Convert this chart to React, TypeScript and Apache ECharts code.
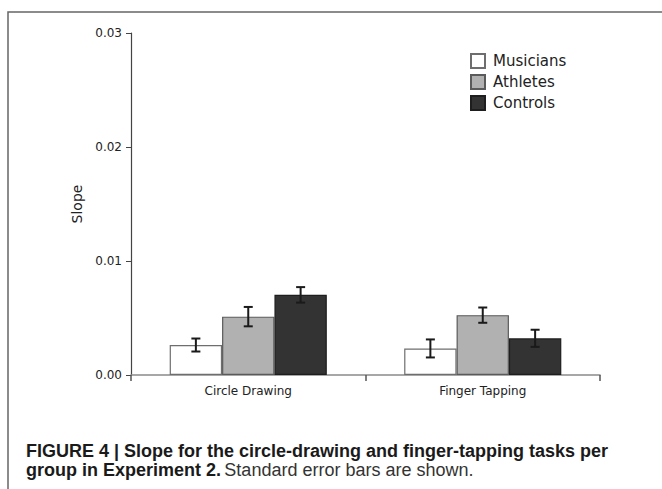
import React, { useEffect, useRef } from "react";
import * as echarts from "echarts";

const categories = ["Circle Drawing", "Finger Tapping"];
const seriesNames = ["Musicians", "Athletes", "Controls"];
const musicians = [0.00263, 0.00233];
const athletes = [0.00512, 0.00525];
const controls = [0.00703, 0.00322];
const musiciansErr = [0.00057, 0.00079];
const athletesErr = [0.00085, 0.00067];
const controlsErr = [0.00068, 0.00075];
const yTicks = [0, 0.01, 0.02, 0.03];

const fills = ["#ffffff", "#b1b1b1", "#333333"];
const borders = ["#6e6e6e", "#5a5a5a", "#1e1e1e"];
const FONT = "DejaVu Sans";
const CAP_FONT = "'Liberation Sans Narrow', 'Liberation Sans', sans-serif";

export default function App() {
  const ref = useRef<HTMLDivElement>(null);
  useEffect(() => {
    document.body.style.margin = "0";
    const chart = echarts.init(ref.current!, null, { renderer: "svg" });
    const values = [musicians, athletes, controls];
    const errs = [musiciansErr, athletesErr, controlsErr];
    const errData: number[][] = [];
    values.forEach((vals, g) => {
      vals.forEach((v, c) => {
        errData.push([c, v - errs[g][c], v + errs[g][c], g]);
      });
    });
    const gapRatio = 0.33;
    chart.setOption({
      animation: false,
      backgroundColor: "#ffffff",
      textStyle: { fontFamily: FONT },
      grid: { left: 131, top: 33, right: 62, bottom: 114, containLabel: false },
      legend: {
        data: seriesNames,
        orient: "vertical",
        left: 470,
        top: 53,
        padding: 0,
        itemWidth: 14,
        itemHeight: 14,
        itemGap: 5,
        icon: "rect",
        textStyle: { fontSize: 15, color: "#222", fontFamily: FONT, padding: [0, 0, 0, 3] },
      },
      xAxis: {
        type: "category",
        data: categories,
        axisLine: { lineStyle: { color: "#8a8a8a", width: 1.5 } },
        axisTick: { show: true, length: 6, lineStyle: { color: "#555", width: 1.5 } },
        axisLabel: { fontSize: 12, color: "#222", margin: 10, fontFamily: FONT },
      },
      yAxis: {
        type: "value",
        min: yTicks[0],
        max: yTicks[yTicks.length - 1],
        interval: 0.01,
        name: "Slope",
        nameLocation: "middle",
        nameGap: 46,
        nameTextStyle: { fontSize: 14, color: "#222", fontFamily: FONT },
        axisLine: { show: true, lineStyle: { color: "#444", width: 1.2 } },
        axisTick: { show: true, length: 5, lineStyle: { color: "#444" } },
        splitLine: { show: false },
        axisLabel: {
          fontSize: 12,
          color: "#222",
          margin: 9,
          fontFamily: FONT,
          formatter: (v: number) => v.toFixed(2),
        },
      },
      series: [
        ...seriesNames.map((name, i) => ({
          name,
          type: "bar",
          data: values[i],
          barGap: "0%",
          barCategoryGap: "33%",
          itemStyle: { color: fills[i], borderColor: borders[i], borderWidth: 1.2 },
        })),
        {
          type: "custom",
          name: "err",
          data: errData,
          encode: { x: 0, y: [1, 2] },
          z: 10,
          renderItem: (params: any, api: any) => {
            const c = api.value(0);
            const lo = api.coord([c, api.value(1)]);
            const hi = api.coord([c, api.value(2)]);
            const band = api.size([1, 0])[0];
            const barW = (band * (1 - gapRatio)) / 3;
            const x = lo[0] + (api.value(3) - 1) * barW;
            const h = 4.5;
            const style = { stroke: "#1a1a1a", lineWidth: 2 };
            return {
              type: "group",
              children: [
                { type: "line", shape: { x1: x, y1: lo[1], x2: x, y2: hi[1] }, style },
                { type: "line", shape: { x1: x - h, y1: lo[1], x2: x + h, y2: lo[1] }, style },
                { type: "line", shape: { x1: x - h, y1: hi[1], x2: x + h, y2: hi[1] }, style },
              ],
            };
          },
        },
      ],
      graphic: [
        {
          type: "rect",
          shape: { x: 8, y: 12, width: 700, height: 520 },
          style: { fill: "none", stroke: "#666", lineWidth: 1.5 },
          silent: true,
        },
        {
          type: "text",
          left: 26,
          top: 441,
          style: {
            text: "FIGURE 4 | Slope for the circle-drawing and finger-tapping tasks per",
            font: `bold 18px ${CAP_FONT}`,
            lineHeight: 20,
            fill: "#1a1a1a",
          },
        },
        {
          type: "text",
          left: 26,
          top: 461,
          style: {
            text: "{b|group in Experiment 2.} {r|Standard error bars are shown.}",
            rich: {
              b: { font: `bold 18px ${CAP_FONT}`, fill: "#1a1a1a", lineHeight: 20 },
              r: { font: `18px ${CAP_FONT}`, fill: "#333", lineHeight: 20 },
            },
          },
        },
      ],
    });
    return () => chart.dispose();
  }, []);
  return <div ref={ref} style={{ width: 662, height: 489 }} />;
}
